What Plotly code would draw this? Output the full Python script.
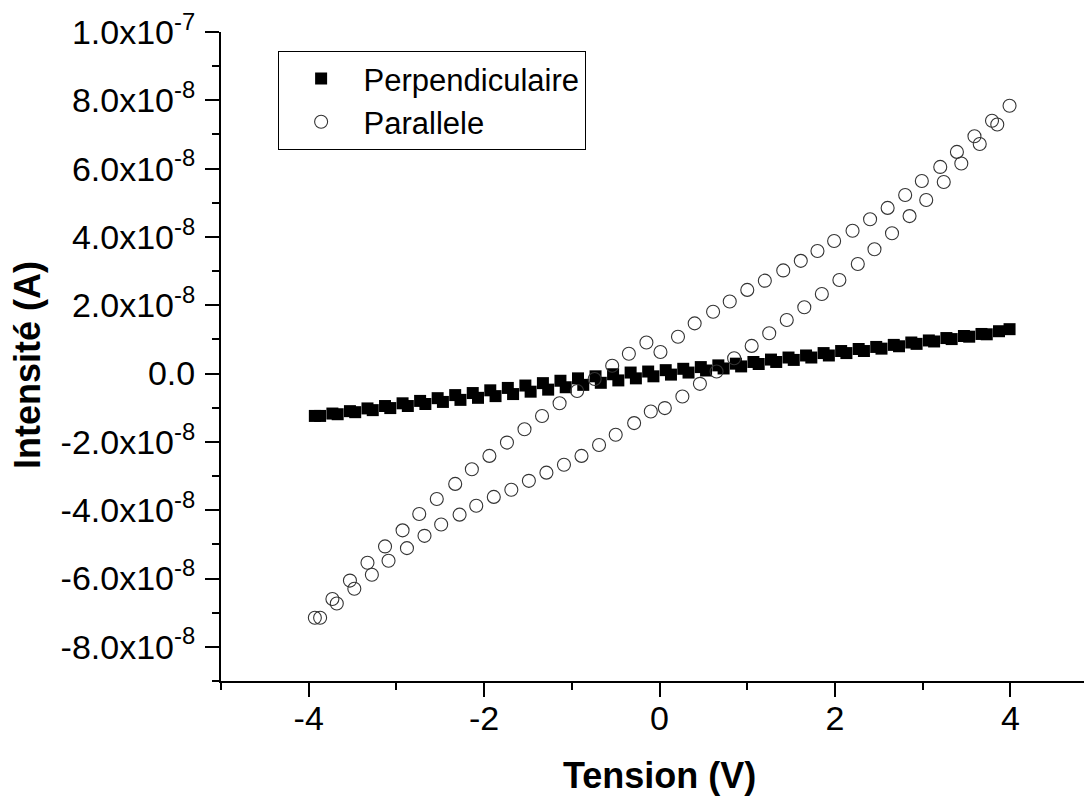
import plotly.graph_objects as go

# ---------------- data (current in units of 1e-8 A) ----------------
perp_x_a = [-3.93, -3.73, -3.53, -3.33, -3.13, -2.93, -2.73, -2.53, -2.33, -2.13,
            -1.93, -1.73, -1.53, -1.33, -1.13, -0.93, -0.73, -0.53, -0.33, -0.13,
            0.07, 0.27, 0.47, 0.67, 0.87, 1.07, 1.27, 1.47, 1.67, 1.87,
            2.07, 2.27, 2.47, 2.67, 2.87, 3.07, 3.27, 3.47, 3.67, 3.87]
perp_y_a = [-1.24, -1.17, -1.10, -1.02, -0.95, -0.87, -0.80, -0.72, -0.63, -0.57,
            -0.49, -0.42, -0.35, -0.28, -0.21, -0.14, -0.08, -0.02, 0.03, 0.06,
            0.10, 0.14, 0.19, 0.24, 0.29, 0.34, 0.41, 0.47, 0.53, 0.60,
            0.66, 0.72, 0.78, 0.84, 0.91, 0.97, 1.04, 1.10, 1.16, 1.24]
perp_x_b = [-3.87, -3.67, -3.47, -3.27, -3.07, -2.87, -2.67, -2.47, -2.27, -2.07,
            -1.87, -1.67, -1.47, -1.27, -1.07, -0.87, -0.67, -0.47, -0.27, -0.07,
            0.13, 0.33, 0.53, 0.73, 0.93, 1.13, 1.33, 1.53, 1.73, 1.93,
            2.13, 2.33, 2.53, 2.73, 2.93, 3.13, 3.33, 3.53, 3.73, 3.99]
perp_y_b = [-1.24, -1.19, -1.13, -1.07, -1.01, -0.95, -0.89, -0.83, -0.77, -0.71,
            -0.66, -0.60, -0.53, -0.47, -0.40, -0.33, -0.27, -0.20, -0.14, -0.08,
            -0.03, 0.03, 0.09, 0.15, 0.21, 0.28, 0.34, 0.40, 0.47, 0.53,
            0.60, 0.66, 0.73, 0.80, 0.87, 0.94, 1.01, 1.08, 1.15, 1.30]

para_x_up = [-3.93, -3.73, -3.53, -3.33, -3.13, -2.93, -2.74, -2.54, -2.33, -2.14,
             -1.94, -1.74, -1.54, -1.34, -1.14, -0.94, -0.74, -0.54, -0.35, -0.15,
             0.01, 0.21, 0.40, 0.61, 0.80, 1.00, 1.20, 1.41, 1.61, 1.80,
             1.99, 2.20, 2.40, 2.60, 2.80, 2.99, 3.20, 3.39, 3.59, 3.79, 3.99]
para_y_up = [-7.15, -6.60, -6.06, -5.54, -5.06, -4.59, -4.11, -3.67, -3.23, -2.80,
             -2.41, -2.02, -1.63, -1.24, -0.87, -0.51, -0.16, 0.23, 0.58, 0.91,
             0.63, 1.08, 1.47, 1.81, 2.11, 2.45, 2.72, 3.02, 3.30, 3.59,
             3.88, 4.18, 4.52, 4.85, 5.23, 5.64, 6.05, 6.49, 6.95, 7.40, 7.84]
para_x_lo = [-3.87, -3.68, -3.48, -3.28, -3.09, -2.88, -2.68, -2.49, -2.28, -2.09,
             -1.89, -1.69, -1.49, -1.29, -1.09, -0.89, -0.69, -0.50, -0.29, -0.10,
             0.06, 0.26, 0.46, 0.65, 0.85, 1.05, 1.25, 1.45, 1.65, 1.85,
             2.05, 2.26, 2.45, 2.65, 2.85, 3.04, 3.24, 3.44, 3.65, 3.85]
para_y_lo = [-7.15, -6.73, -6.30, -5.89, -5.48, -5.11, -4.75, -4.42, -4.13, -3.87,
             -3.61, -3.40, -3.14, -2.90, -2.67, -2.41, -2.09, -1.79, -1.45, -1.11,
             -1.01, -0.67, -0.30, 0.06, 0.45, 0.81, 1.18, 1.57, 1.94, 2.33,
             2.74, 3.21, 3.64, 4.11, 4.61, 5.08, 5.61, 6.15, 6.72, 7.29]

x_tick_vals = [-4, -2, 0, 2, 4]
x_tick_text = ["-4", "-2", "0", "2", "4"]
x_minor_vals = [-5, -3, -1, 1, 3, 5]
y_tick_vals = [10, 8, 6, 4, 2, 0, -2, -4, -6, -8]
y_tick_text = ["1.0x10<sup>-7</sup>", "8.0x10<sup>-8</sup>", "6.0x10<sup>-8</sup>",
               "4.0x10<sup>-8</sup>", "2.0x10<sup>-8</sup>", "0.0",
               "-2.0x10<sup>-8</sup>", "-4.0x10<sup>-8</sup>", "-6.0x10<sup>-8</sup>",
               "-8.0x10<sup>-8</sup>"]
y_minor_vals = [9, 7, 5, 3, 1, -1, -3, -5, -7, -9]

SCALE = 1e-8
FONT = "Arial, Liberation Sans, sans-serif"

fig = go.Figure()
fig.add_trace(go.Scatter(
    x=perp_x_a + perp_x_b,
    y=[v * SCALE for v in perp_y_a + perp_y_b],
    mode="markers", name="Perpendiculaire",
    marker=dict(symbol="square", size=12, color="black", line=dict(width=0)),
))
fig.add_trace(go.Scatter(
    x=para_x_up + para_x_lo,
    y=[v * SCALE for v in para_y_up + para_y_lo],
    mode="markers", name="Parallele",
    marker=dict(symbol="circle-open", size=13, color="#333333", line=dict(width=1.1)),
))

fig.update_layout(
    width=1084, height=793,
    margin=dict(l=213, r=0, t=24, b=120, autoexpand=False),
    paper_bgcolor="white", plot_bgcolor="white",
    font=dict(family=FONT, size=29, color="black"),
    showlegend=True,
    legend=dict(
        x=0.065, y=0.971, xanchor="left", yanchor="top",
        bgcolor="white", bordercolor="black", borderwidth=1,
        font=dict(family=FONT, size=31, color="black"),
        itemwidth=75, tracegroupgap=0,
    ),
    xaxis=dict(
        range=[-5, 4.93], showgrid=False, zeroline=False, automargin=False,
        showline=True, linecolor="black", linewidth=2,
        ticks="outside", ticklen=14, tickwidth=2, tickcolor="black",
        tickmode="array", tickvals=x_tick_vals, ticktext=x_tick_text,
        tickfont=dict(family=FONT, size=34, color="black"),
        ticklabelstandoff=-8, ticklabeloverflow="allow",
        minor=dict(tickvals=x_minor_vals, ticks="outside",
                   ticklen=7, tickwidth=2, tickcolor="black"),
    ),
    yaxis=dict(
        range=[-9e-8, 1e-7], showgrid=False, zeroline=False, automargin=False,
        showline=True, linecolor="black", linewidth=2,
        ticks="outside", ticklen=14, tickwidth=2, tickcolor="black",
        tickmode="array", tickvals=[v * SCALE for v in y_tick_vals],
        ticktext=y_tick_text,
        tickfont=dict(family=FONT, size=34, color="black"),
        ticklabelstandoff=3, ticklabeloverflow="allow",
        minor=dict(tickvals=[v * SCALE for v in y_minor_vals], ticks="outside",
                   ticklen=7, tickwidth=2, tickcolor="black"),
    ),
    annotations=[
        dict(text="<b>Tension (V)</b>", xref="paper", yref="paper",
             x=0.504, y=-0.146, xanchor="center", yanchor="middle",
             showarrow=False, font=dict(family=FONT, size=36, color="black")),
        dict(text="<b>Intensité (A)</b>", xref="paper", yref="paper",
             x=-0.2216, y=0.487, xanchor="center", yanchor="middle", textangle=-90,
             showarrow=False, font=dict(family=FONT, size=36, color="black")),
    ],
)

fig.write_html("out.html")
